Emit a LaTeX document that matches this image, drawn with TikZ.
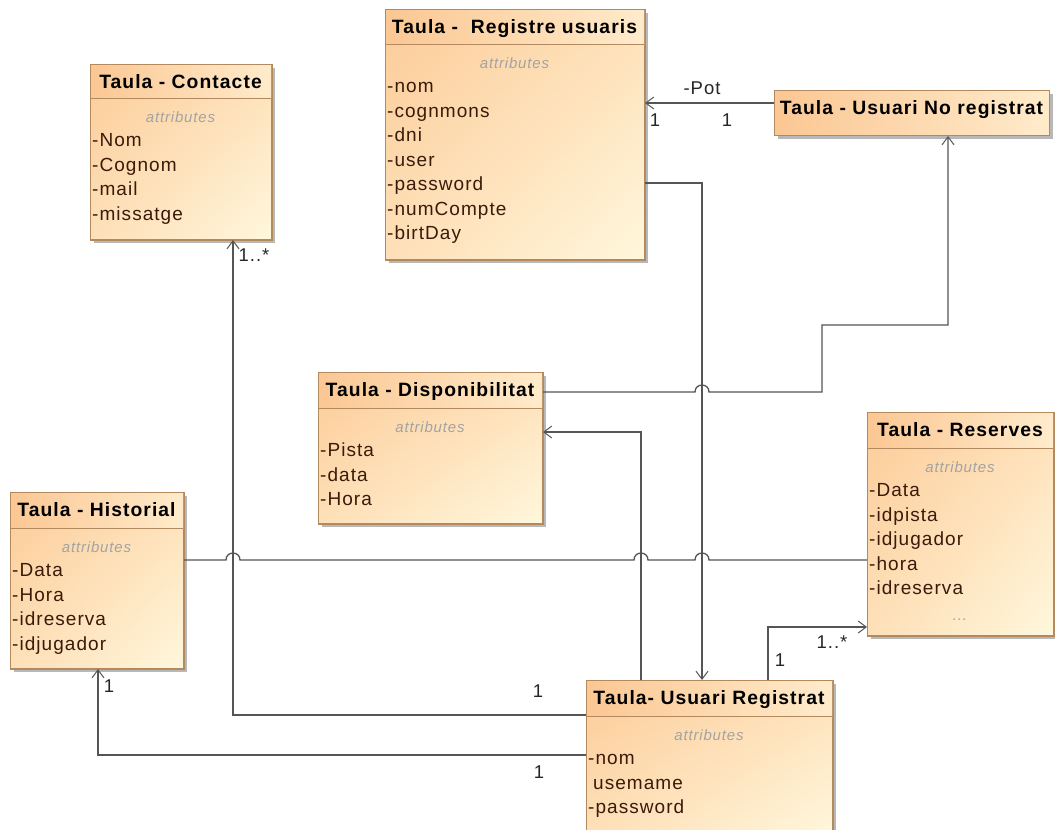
\documentclass[tikz,border=0pt]{standalone}
\usepackage{fontspec}
\setmainfont{Liberation Sans}[LetterSpace=5.5]
\usetikzlibrary{arrows.meta,shadings}

\definecolor{hdrA}{HTML}{FBC793}
\definecolor{hdrB}{HTML}{FFEBCB}
\definecolor{bodyUL}{HTML}{FCCB98}
\definecolor{bodyMid}{HTML}{FEE0B8}
\definecolor{bodyLR}{HTML}{FFF7DC}
\definecolor{edge}{HTML}{B38A5F}
\definecolor{shadowgray}{HTML}{B8B8B8}
\definecolor{wire}{HTML}{555555}
\definecolor{attrtext}{HTML}{3A1A0A}
\definecolor{stereogray}{HTML}{A3A3A3}

\tikzset{
  classbody/.style={draw=edge, line width=1pt, inner sep=0pt,
    upper left=bodyUL, upper right=bodyMid, lower left=bodyMid, lower right=bodyLR},
  classhead/.style={draw=edge, line width=1pt, inner sep=0pt,
    left color=hdrA, right color=hdrB},
  classtitle/.style={inner sep=0pt, font=\fontsize{19.3}{23}\selectfont\bfseries, text=black},
  stereo/.style={inner sep=0pt, font=\fontsize{15}{18}\selectfont\itshape, text=stereogray},
  attr/.style={inner sep=0pt, font=\fontsize{19}{23}\selectfont, text=attrtext},
  mult/.style={inner sep=0pt, font=\fontsize{18.5}{22}\selectfont, text=black!85},
  assoc/.style={draw=wire, line width=1.3pt},
  nav/.style={assoc, -{Straight Barb[length=8pt,width=12pt,line width=1pt]}},
}

% class box: name, x1, y1, x2, y2, y of header line, title, attribute list
\newcommand\umlclass[8]{%
  \fill[shadowgray] ({#2+4},{#3+4}) rectangle ({#4+4},{#5+4});
  \node[classbody, minimum width={#4pt-#2pt}, minimum height={#5pt-#3pt},
        anchor=north west] (#1) at (#2,#3) {};
  \shade[left color=hdrA, right color=hdrB] (#2,#3) rectangle (#4,#6);
  \draw[edge, line width=1pt] (#2,#6) -- (#4,#6);
  \draw[edge, line width=1pt] (#1.north west) rectangle (#1.south east);
  \node[classtitle, anchor=base] (#1-title) at ({(#2+#4)/2},{#3+24}) {#7};
  \node[stereo, anchor=base] (#1-stereo) at ({(#2+#4)/2},{#6+24}) {attributes};
  \foreach \a [count=\i] in {#8}
    \node[attr, anchor=base west] (#1-a\i) at ({#2+2},{#6+24+24.5*\i}) {\a};
}

\begin{document}
\begin{tikzpicture}[x=1pt, y=-1pt]
\useasboundingbox (0,0) rectangle (1055,830);
\fill[white] (0,0) rectangle (1055,830);

% classes
\umlclass{cont}{90}{64}{271}{239}{98}{Taula - Contacte}{-Nom,-Cognom,-mail,-missatge}
\umlclass{regu}{385}{9}{644}{259}{44}{Taula -\ \ Registre usuaris}{-nom,-cognmons,-dni,-user,-password,-numCompte,-birtDay}
\umlclass{dispo}{318}{372}{542}{523}{408}{Taula - Disponibilitat}{-Pista,-data,-Hora}
\umlclass{res}{867}{412}{1053}{635}{448}{Taula - Reserves}{-Data,-idpista,-idjugador,-hora,-idreserva}
\node[stereo, anchor=base] (res-more) at (960,620) {...};
\umlclass{hist}{10}{492}{183}{668}{528}{Taula - Historial}{-Data,-Hora,-idreserva,-idjugador}
\umlclass{usreg}{586}{680}{832}{836}{716}{Taula- Usuari Registrat}{-nom,\hspace{5pt}usemame,-password}

% header-only class
\fill[shadowgray] (778,94) rectangle (1053,139);
\node[classhead, minimum width=275pt, minimum height=45pt, anchor=north west] (noreg) at (774,90) {};
\node[classtitle, anchor=base] (noreg-title) at (911.5,114) {Taula - Usuari No registrat};

% associations
\draw[nav] (noreg.west |- 0,103) -- (regu.east |- 0,103);
\draw[nav] (regu.east |- 0,183) -| (usreg.north -| 702,0);
\draw[nav] (dispo.east |- 0,392) -- (695,392)
  .. controls (695,382.7) and (709,382.7) .. (709,392)
  -- (822,392) -- (822,325) -| (noreg.south -| 948,0);
\draw[nav] (usreg.north -| 641,0) |- (dispo.east |- 0,432);
\draw[assoc] (hist.east |- 0,560) -- (226,560)
  .. controls (226,550.7) and (240,550.7) .. (240,560) -- (634,560)
  .. controls (634,550.7) and (648,550.7) .. (648,560) -- (695,560)
  .. controls (695,550.7) and (709,550.7) .. (709,560) -- (res.west |- 0,560);
\draw[nav] (usreg.north -| 768,0) |- (res.west |- 0,627);
\draw[nav] (usreg.west |- 0,715) -| (cont.south -| 233,0);
\draw[nav] (usreg.west |- 0,755) -| (hist.south -| 98,0);

% multiplicities and role names
\node[mult] (pot) at (702,88) {-Pot};
\node[mult] (m-regu) at (655,120) {1};
\node[mult] (m-noreg) at (727,120) {1};
\node[mult] (m-cont) at (254,255) {1..*};
\node[mult] (m-usreg-cont) at (538,691) {1};
\node[mult] (m-hist) at (109,686) {1};
\node[mult] (m-usreg-hist) at (539,772) {1};
\node[mult] (m-usreg-res) at (780,660) {1};
\node[mult] (m-res) at (832,642) {1..*};
\end{tikzpicture}
\end{document}
